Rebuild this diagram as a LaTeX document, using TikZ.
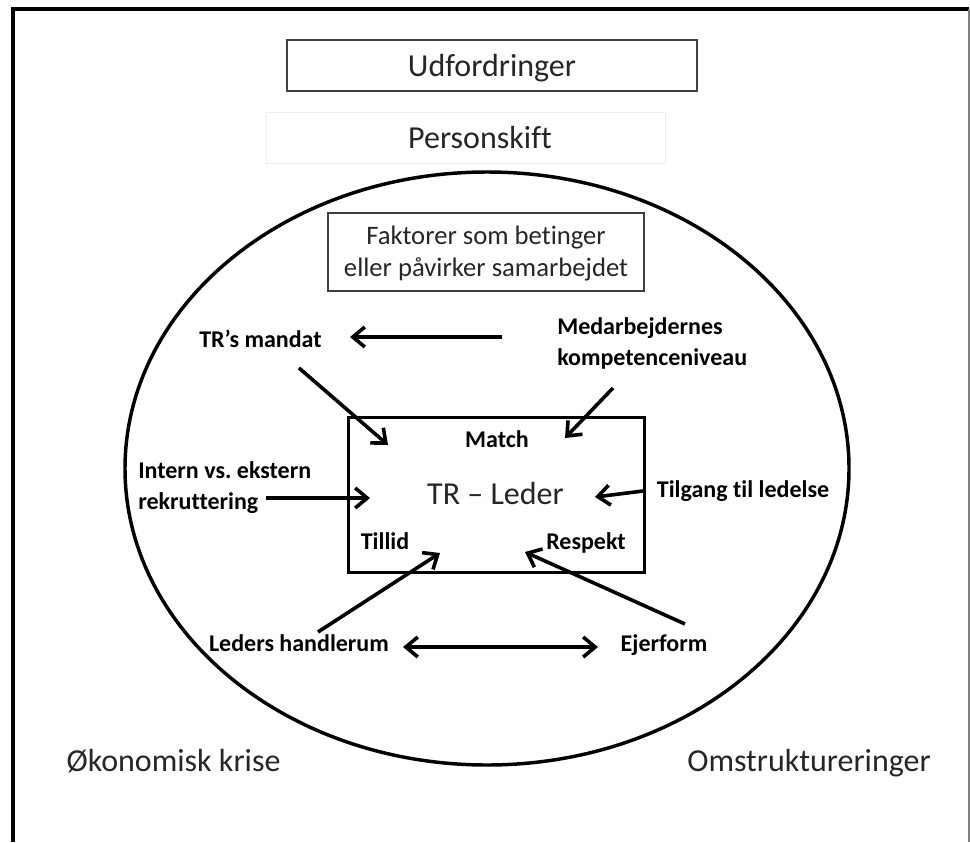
\documentclass[tikz,border=0pt]{standalone}
\usepackage{fontspec}
\setmainfont{Carlito}[Ligatures=NoCommon]
\frenchspacing
\usetikzlibrary{arrows.meta}
\definecolor{txtgray}{HTML}{262626}
\definecolor{boxgray}{HTML}{404040}
\definecolor{faintgray}{HTML}{EDEDED}
\begin{document}
\begin{tikzpicture}[x=0.75pt,y=-0.75pt,
  lbl/.style={font=\bfseries\fontsize{18}{23.25}\selectfont, inner sep=0pt, text=black},
  reg/.style={font=\fontsize{24}{29}\selectfont, inner sep=0pt, text=txtgray},
  small/.style={font=\fontsize{20}{24}\selectfont, inner sep=0pt, text=txtgray},
  arr/.style={line width=2.7pt, -{Straight Barb[length=9pt,width=15pt]}},
  darr/.style={line width=2.7pt, {Straight Barb[length=9pt,width=15pt]}-{Straight Barb[length=9pt,width=15pt]}},
  thinbox/.style={draw=boxgray, line width=1.1pt}
]
\useasboundingbox (0,0) rectangle (970,842);
% outer frame
\draw[line width=3pt] (13,842) -- (13,9.5) -- (969,9.5);
\draw[gray, line width=0.8pt] (969,9.5) -- (969,842);

% top boxes
\draw[thinbox] (287,40) rectangle (697,91);
\node[reg, anchor=base] (udf) at (492,76) {Udfordringer};
\draw[faintgray, line width=0.6pt] (266,112) rectangle (665,163);
\node[reg, anchor=base] (pers) at (480,148) {Personskift};

% ellipse
\draw[line width=2.6pt] (487,468.5) ellipse [x radius=362, y radius=296.5];

% Faktorer box
\draw[thinbox] (328,213) rectangle (644,291);
\node[small, align=center] (fak) at (486,254) {Faktorer som betinger\\eller påvirker samarbejdet};

% central box
\draw[line width=2.25pt] (348,417) rectangle (644,572);
\node[lbl, anchor=base] (match) at (497,447) {Match};
\node[reg, anchor=base] (trl) at (495.5,504) {TR – Leder};
\node[lbl, anchor=base] (tillid) at (385,549) {Tillid};
\node[lbl, anchor=base] (respekt) at (586,549) {Respekt};

% factor labels
\node[lbl, anchor=base] (mandat) at (260.5,347) {TR’s mandat};
\node[lbl, align=left, anchor=west] (medarb) at (557,343) {Medarbejdernes\\kompetenceniveau};
\node[lbl, align=left, anchor=west] (intern) at (138,488) {Intern vs. ekstern\\rekruttering};
\node[lbl, anchor=base] (tilgang) at (743,497) {Tilgang til ledelse};
\node[lbl, anchor=base] (leders) at (299,651) {Leders handlerum};
\node[lbl, anchor=base] (ejer) at (664,651) {Ejerform};

% bottom labels
\node[reg, anchor=base] (oek) at (173.5,771) {Økonomisk krise};
\node[reg, anchor=base] (omst) at (809,771) {Omstruktureringer};

% arrow end points
\coordinate (a1s) at (502,337); \coordinate (a1e) at (350,337);
\coordinate (a2s) at (299,368); \coordinate (a2e) at (388,445);
\coordinate (a3s) at (613,388); \coordinate (a3e) at (565,438);
\coordinate (a4s) at (266,498); \coordinate (a4e) at (370,498);
\coordinate (a5s) at (643,491); \coordinate (a5e) at (595,497);
\coordinate (a6s) at (318,632); \coordinate (a6e) at (440,553);
\coordinate (a7s) at (685,624); \coordinate (a7e) at (525,552);
\coordinate (a8s) at (403,647); \coordinate (a8e) at (598,647);

\draw[arr] (a1s) -- (a1e);
\draw[arr] (a2s) -- (a2e);
\draw[arr] (a3s) -- (a3e);
\draw[arr] (a4s) -- (a4e);
\draw[arr] (a5s) -- (a5e);
\draw[arr] (a6s) -- (a6e);
\draw[arr] (a7s) -- (a7e);
\draw[darr] (a8s) -- (a8e);
\end{tikzpicture}
\end{document}
